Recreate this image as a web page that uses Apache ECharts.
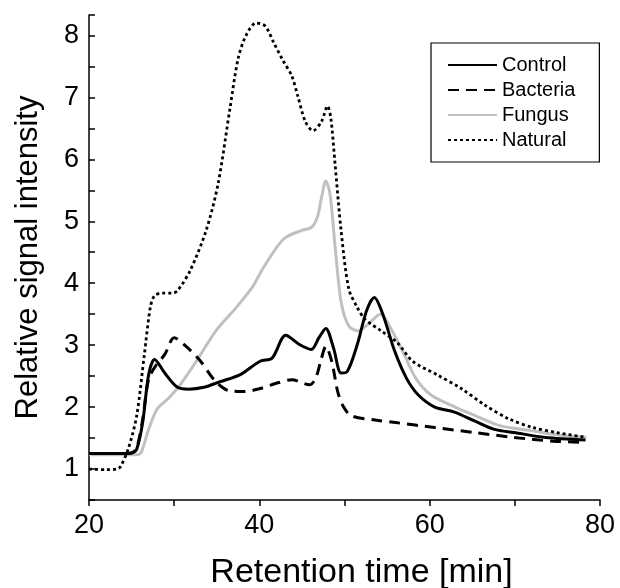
<!DOCTYPE html>
<html>
<head>
<meta charset="utf-8">
<script src="https://cdn.jsdelivr.net/npm/echarts@6/dist/echarts.min.js"></script>
<style>
html,body{margin:0;padding:0;background:#fff;}
#chart{width:620px;height:588px;}
</style>
</head>
<body>
<div id="chart"></div>
<script>
// Retention time [min], relative signal intensity
const control = [
  [20,1.25],[22,1.25],[24,1.25],[25,1.26],[25.6,1.32],[26.3,1.75],[27.0,2.52],[27.7,2.77],
  [28.9,2.55],[30.3,2.33],[31.7,2.29],[33.5,2.32],[35.4,2.41],[37.7,2.52],[40.1,2.74],
  [41.5,2.79],[43.1,3.16],[44.7,3.01],[46.1,2.93],[47.0,3.12],[47.8,3.27],[48.7,2.96],
  [49.6,2.55],[50.3,2.57],[51.5,3.01],[52.6,3.56],[53.5,3.77],[54.5,3.50],[55.9,2.90],
  [57.3,2.46],[58.7,2.19],[60.6,2.0],[62.9,1.92],[65.2,1.78],[67.6,1.64],[69.9,1.59],
  [73.6,1.51],[78.3,1.47]
];
const bacteria = [
  [20,1.25],[22,1.25],[24,1.25],[25,1.26],[25.6,1.34],[26.3,1.8],[27.0,2.45],[27.9,2.68],
  [28.9,2.85],[30.0,3.12],[31.4,2.98],[33.1,2.74],[34.7,2.44],[36.3,2.27],[38.2,2.25],
  [40.1,2.30],[41.9,2.38],[43.8,2.44],[45.9,2.36],[46.6,2.46],[47.3,2.79],[47.8,2.98],
  [48.5,2.74],[49.2,2.25],[49.9,2.0],[50.8,1.86],[53.6,1.79],[56.0,1.75],[60.6,1.67],
  [65.2,1.59],[69.9,1.51],[74.5,1.45],[78.3,1.43]
];
const fungus = [
  [20,1.23],[22,1.23],[24,1.23],[25.5,1.23],[26.1,1.26],[27.0,1.64],[28.0,1.97],[29.3,2.14],
  [30.7,2.36],[32.6,2.74],[34.9,3.23],[37.3,3.61],[39.2,3.94],[40.3,4.21],[42.1,4.59],
  [43.1,4.74],[44.9,4.85],[46.1,4.90],[46.8,5.06],[47.3,5.38],[47.8,5.65],[48.3,5.44],
  [48.9,4.59],[49.6,3.70],[50.5,3.31],[51.6,3.23],[52.8,3.34],[54.2,3.50],[55.6,3.23],
  [57.0,2.85],[58.4,2.46],[60.2,2.19],[63.0,2.0],[65.4,1.86],[68.2,1.70],[71.9,1.62],
  [75.6,1.54],[78.4,1.51]
];
const natural = [
  [20,1.0],[22,0.99],[23.3,1.0],[23.7,1.04],[24.6,1.32],[25.6,1.86],[26.5,2.85],[27.2,3.61],
  [27.7,3.80],[28.6,3.84],[29.8,3.84],[30.4,3.88],[31.9,4.21],[33.75,4.85],[35.15,5.6],
  [36.55,6.82],[37.5,7.62],[38.4,7.99],[39.6,8.2],[40.7,8.15],[41.7,7.88],[42.8,7.59],
  [43.8,7.35],[44.5,7.03],[45.4,6.61],[46.3,6.46],[47.3,6.61],[48.0,6.86],[48.4,6.66],
  [48.9,5.91],[49.6,4.85],[50.5,3.91],[51.5,3.61],[52.4,3.42],[54.3,3.23],[56.2,3.04],
  [58.0,2.74],[60.9,2.52],[63.7,2.30],[66.5,2.03],[69.3,1.81],[72.1,1.67],[74.9,1.59],
  [78.4,1.51]
];
const seriesNames = ['Control', 'Bacteria', 'Fungus', 'Natural'];
const xTickLabels = [20, 40, 60, 80];
const yTickLabels = [1, 2, 3, 4, 5, 6, 7, 8];

const FONT = "'Liberation Sans', Arial, Helvetica, sans-serif";
const chart = echarts.init(document.getElementById('chart'), null, {renderer: 'canvas'});
chart.setOption({
  animation: false,
  backgroundColor: '#fff',
  grid: {left: 89, right: 20, top: 15, bottom: 88, containLabel: false, outerBoundsMode: 'none'},
  legend: {
    data: seriesNames,
    orient: 'vertical',
    left: 431, top: 43,
    padding: [12, 24, 12, 16],
    itemWidth: 49, itemHeight: 14, itemGap: 5, itemTextGap: 7,
    borderColor: '#000', borderWidth: 1.2,
    itemStyle: {opacity: 0},
    textStyle: {fontFamily: FONT, fontSize: 20, color: '#000'}
  },
  xAxis: {
    type: 'value', min: 20, max: 80, interval: 10,
    name: 'Retention time [min]', nameLocation: 'middle', nameGap: 56,
    nameTextStyle: {fontFamily: FONT, fontSize: 34, color: '#000', padding: [0, 0, 0, 34]},
    axisLine: {show: true, onZero: false, lineStyle: {color: '#000', width: 1.5}},
    axisTick: {show: true, inside: false, length: 6, lineStyle: {color: '#000', width: 1.5}},
    axisLabel: {
      fontFamily: FONT, fontSize: 27, color: '#000', margin: 12,
      formatter: v => xTickLabels.includes(Math.round(v * 1000) / 1000) ? String(v) : ''
    },
    splitLine: {show: false}
  },
  yAxis: {
    type: 'value', min: 0.5, max: 8.33, interval: 0.5,
    name: 'Relative signal intensity', nameLocation: 'middle', nameGap: 45,
    nameTextStyle: {fontFamily: FONT, fontSize: 31, color: '#000'},
    axisLine: {show: true, onZero: false, lineStyle: {color: '#000', width: 1.5}},
    axisTick: {show: true, inside: true, length: 6, lineStyle: {color: '#000', width: 1.5}},
    axisLabel: {
      fontFamily: FONT, fontSize: 27, color: '#000', margin: 10,
      formatter: v => {
        const r = Math.round(v * 1000) / 1000;
        return yTickLabels.includes(r) ? String(r) : '';
      }
    },
    splitLine: {show: false}
  },
  series: [
    {name: 'Fungus', type: 'line', data: fungus, symbol: 'none', smooth: 0.3,
     lineStyle: {color: '#c0c0c0', width: 3}, itemStyle: {color: '#c0c0c0'}},
    {name: 'Natural', type: 'line', data: natural, symbol: 'none', smooth: 0.3,
     lineStyle: {color: '#000', width: 2.8, type: [3, 3]}, itemStyle: {color: '#000'}},
    {name: 'Bacteria', type: 'line', data: bacteria, symbol: 'none', smooth: 0.3,
     lineStyle: {color: '#000', width: 3, type: [11, 7]}, itemStyle: {color: '#000'}},
    {name: 'Control', type: 'line', data: control, symbol: 'none', smooth: 0.3,
     lineStyle: {color: '#000', width: 3}, itemStyle: {color: '#000'}}
  ]
});
</script>
</body>
</html>
